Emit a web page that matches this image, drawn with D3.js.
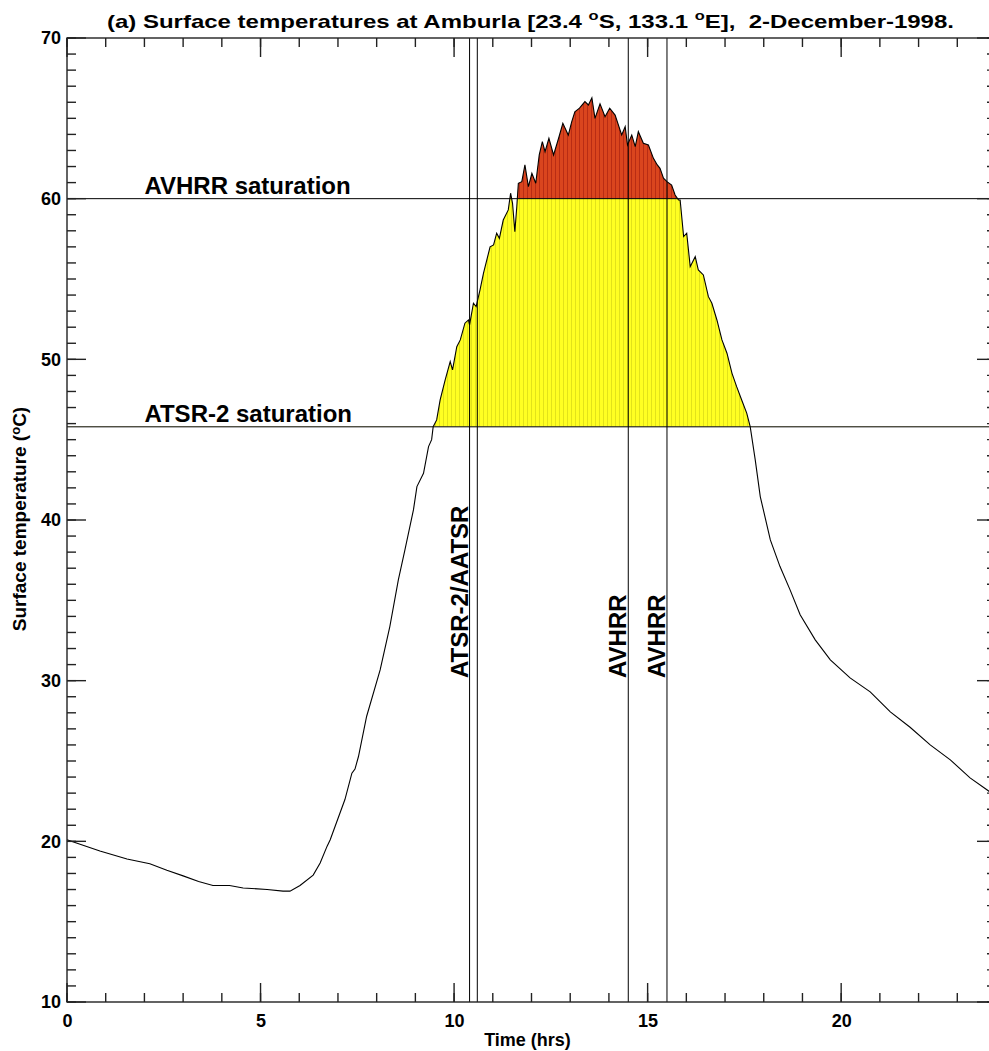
<!DOCTYPE html>
<html lang="en">
<head>
<meta charset="UTF-8">
<title>Surface temperatures at Amburla</title>
<script src="https://cdn.jsdelivr.net/npm/d3@7"></script>
<style>
  body { margin: 0; background: #fff; }
  text { font-family: "Liberation Sans", Arial, sans-serif; font-weight: bold; fill: #000; }
</style>
</head>
<body>
<div id="chart"></div>
<script>
// time of day (hrs) and surface temperature (deg C)
var hours = [0.00, 0.30, 0.85, 1.55, 2.14, 2.58, 3.00, 3.40, 3.77, 4.20, 4.55, 5.17, 5.58, 5.76,
  6.02, 6.36, 6.54, 6.72, 6.80, 7.18, 7.36, 7.44, 7.53, 7.74, 8.09, 8.34, 8.56, 8.73, 8.95,
  9.04, 9.21, 9.34, 9.42, 9.46, 9.55, 9.64, 9.77, 9.90, 9.96, 10.07, 10.16, 10.28, 10.37, 10.40,
  10.50, 10.57, 10.67, 10.76, 10.93, 11.02, 11.10, 11.17, 11.27, 11.40, 11.46, 11.51, 11.57,
  11.62, 11.66, 11.75, 11.83, 11.92, 12.01, 12.11, 12.20, 12.28, 12.35, 12.45, 12.57, 12.70,
  12.81, 12.95, 13.04, 13.12, 13.24, 13.38, 13.47, 13.56, 13.64, 13.77, 13.90, 14.02, 14.16,
  14.33, 14.42, 14.48, 14.59, 14.68, 14.76, 14.89, 15.02, 15.15, 15.25, 15.32, 15.41, 15.50,
  15.62, 15.71, 15.80, 15.84, 15.93, 16.01, 16.10, 16.23, 16.31, 16.44, 16.57, 16.66, 16.79,
  16.92, 17.05, 17.18, 17.30, 17.43, 17.56, 17.65, 17.78, 17.91, 18.17, 18.42, 18.68, 18.94,
  19.33, 19.72, 20.23, 20.75, 21.27, 21.78, 22.30, 22.82, 23.33, 23.83, 24.00];
var tempC = [20.1, 19.85, 19.4, 18.9, 18.6, 18.2, 17.85, 17.5, 17.25, 17.25, 17.1, 17.0, 16.9, 16.9,
  17.25, 17.9, 18.65, 19.7, 20.1, 22.6, 24.24, 24.5, 25.28, 27.77, 30.67, 33.37, 36.27, 38.14, 40.63,
  42.08, 42.91, 44.57, 45.0, 45.81, 46.23, 47.47, 48.72, 49.86, 49.34, 50.79, 51.21, 52.25, 52.45, 52.14,
  53.49, 53.28, 54.32, 55.36, 57.0, 57.12, 57.85, 57.53, 58.67, 59.3, 60.34, 59.71, 57.95,
  59.5, 60.96, 61.06, 62.1, 60.75, 61.58, 60.96, 62.72, 63.55, 62.92, 63.76, 62.72, 63.76,
  64.69, 63.96, 64.79, 65.41, 65.63, 66.04, 65.83, 66.28, 65.0, 65.9, 65.1, 65.63, 65.2,
  63.96, 64.48, 63.34, 63.96, 63.24, 64.17, 63.45, 63.34, 62.51, 62.1, 61.89, 61.27, 61.06,
  60.85, 60.23, 59.92, 59.92, 57.64, 57.85, 55.77, 56.39, 55.56, 55.25, 53.9, 53.49, 52.45,
  51.21, 50.38, 49.13, 48.3, 47.47, 46.65, 45.81, 43.74, 41.46, 38.76, 37.1, 35.65, 34.1,
  32.54, 31.3, 30.17, 29.3, 28.06, 27.1, 26.0, 25.07, 23.95, 23.1, 22.9];

var xMajor = [0, 5, 10, 15, 20];
var xMinor = d3.range(0, 25, 1);
var yMajor = [10, 20, 30, 40, 50, 60, 70];
var yMinor = d3.range(10, 71, 1);

// saturation levels
var satLevels = [60, 45.8];
var satNames = ["AVHRR saturation", "ATSR-2 saturation"];
// overpass times
var passTimes = [10.4, 10.6, 14.5, 15.5];
var passNames = ["ATSR-2/AATSR", "", "AVHRR", "AVHRR"];

var data = hours.map(function(h, i) { return { t: h, v: tempC[i] }; });

var W = 989, H = 1051;
var pLeft = 67, pRight = 996, pTop = 38, pBottom = 1002;

var x = d3.scaleLinear().domain([0, 24]).range([pLeft, pRight]);
var y = d3.scaleLinear().domain([10, 70]).range([pBottom, pTop]);

var svg = d3.select("#chart").append("svg").attr("width", W).attr("height", H);

// hatched fills
var defs = svg.append("defs");
function hatch(id, base, stripe) {
  var p = defs.append("pattern").attr("id", id).attr("patternUnits", "userSpaceOnUse")
    .attr("width", 4).attr("height", 10);
  p.append("rect").attr("width", 4).attr("height", 10).attr("fill", base);
  p.append("rect").attr("x", 3).attr("width", 1).attr("height", 10).attr("fill", stripe);
}
hatch("yel", "#ffff22", "#e2e21a");
hatch("red", "#da451e", "#b92c14");

defs.append("clipPath").attr("id", "clipYel").append("rect")
  .attr("x", pLeft).attr("width", pRight - pLeft)
  .attr("y", y(satLevels[0])).attr("height", y(satLevels[1]) - y(satLevels[0]));
defs.append("clipPath").attr("id", "clipRed").append("rect")
  .attr("x", pLeft).attr("width", pRight - pLeft)
  .attr("y", pTop).attr("height", y(satLevels[0]) - pTop);

var area = d3.area()
  .x(function(d) { return x(d.t); })
  .y0(y(satLevels[1]))
  .y1(function(d) { return y(d.v); });

svg.append("path").attr("d", area(data)).attr("fill", "url(#yel)").attr("clip-path", "url(#clipYel)");
svg.append("path").attr("d", area(data)).attr("fill", "url(#red)").attr("clip-path", "url(#clipRed)");

// curve
var line = d3.line().x(function(d) { return x(d.t); }).y(function(d) { return y(d.v); });
svg.append("path").attr("d", line(data)).attr("fill", "none")
  .attr("stroke", "#000").attr("stroke-width", 1.1);

// saturation lines
svg.selectAll(".sat").data(satLevels).enter().append("line").attr("class", "sat")
  .attr("x1", pLeft).attr("x2", pRight)
  .attr("y1", function(d) { return y(d); }).attr("y2", function(d) { return y(d); })
  .attr("stroke", "#000").attr("stroke-width", 1);
svg.selectAll(".satlab").data(satLevels).enter().append("text").attr("class", "satlab")
  .attr("x", x(2)).attr("y", function(d) { return y(d) - 5; })
  .style("font-size", "24px")
  .text(function(d, i) { return satNames[i]; });

// overpass lines
svg.selectAll(".pass").data(passTimes).enter().append("line").attr("class", "pass")
  .attr("x1", function(d) { return x(d); }).attr("x2", function(d) { return x(d); })
  .attr("y1", pTop).attr("y2", pBottom)
  .attr("stroke", "#000").attr("stroke-width", 1);
svg.selectAll(".passlab").data(passTimes).enter().append("text").attr("class", "passlab")
  .attr("transform", function(d) { return "translate(" + (x(d) - 2) + "," + 678 + ") rotate(-90)"; })
  .style("font-size", "24px")
  .text(function(d, i) { return passNames[i]; });

// frame
svg.append("rect").attr("x", pLeft).attr("y", pTop).attr("width", pRight - pLeft).attr("height", pBottom - pTop)
  .attr("fill", "none").attr("stroke", "#222").attr("stroke-width", 1.4);

// inward ticks on all four sides
var ticks = svg.append("g").attr("stroke", "#222").attr("stroke-width", 1.4);
function xTicks(vals, len) {
  ticks.append("g").selectAll("line").data(vals).enter().append("line")
    .attr("x1", function(d) { return x(d); }).attr("x2", function(d) { return x(d); })
    .attr("y1", pBottom).attr("y2", pBottom - len);
  ticks.append("g").selectAll("line").data(vals).enter().append("line")
    .attr("x1", function(d) { return x(d); }).attr("x2", function(d) { return x(d); })
    .attr("y1", pTop).attr("y2", pTop + len);
}
function yTicks(vals, len) {
  ticks.append("g").selectAll("line").data(vals).enter().append("line")
    .attr("y1", function(d) { return y(d); }).attr("y2", function(d) { return y(d); })
    .attr("x1", pLeft).attr("x2", pLeft + len);
  ticks.append("g").selectAll("line").data(vals).enter().append("line")
    .attr("y1", function(d) { return y(d); }).attr("y2", function(d) { return y(d); })
    .attr("x1", pRight).attr("x2", pRight - len);
}
xTicks(xMinor, 9);
xTicks(xMajor, 19);
yTicks(yMinor, 9);
yTicks(yMajor, 19);

// tick labels
var gx = svg.append("g").attr("transform", "translate(0," + pBottom + ")")
  .call(d3.axisBottom(x).tickValues(xMajor).tickSize(0).tickPadding(12).tickFormat(d3.format("d")));
var gy = svg.append("g").attr("transform", "translate(" + pLeft + ",0)")
  .call(d3.axisLeft(y).tickValues(yMajor).tickSize(0).tickPadding(6).tickFormat(d3.format("d")));
svg.selectAll(".domain").remove();
svg.selectAll(".tick text").style("font-size", "18px")
  .style("font-family", "'Liberation Sans', Arial, sans-serif").style("font-weight", "bold");

// titles
var title = svg.append("text").attr("x", 107).attr("y", 28)
  .attr("textLength", 847).attr("lengthAdjust", "spacingAndGlyphs")
  .style("font-size", "19px");
title.append("tspan").text("(a) Surface temperatures at Amburla [23.4 ");
title.append("tspan").attr("dy", -8).style("font-size", "13px").text("o");
title.append("tspan").attr("dy", 8).text("S, 133.1 ");
title.append("tspan").attr("dy", -8).style("font-size", "13px").text("o");
title.append("tspan").attr("dy", 8).attr("xml:space", "preserve").text("E],  2-December-1998.");

svg.append("text").attr("x", (pLeft + pRight) / 2 - 4).attr("y", 1046)
  .attr("text-anchor", "middle").style("font-size", "18px").text("Time (hrs)");

var yl = svg.append("text").attr("transform", "translate(26,519) rotate(-90)")
  .attr("text-anchor", "middle").style("font-size", "19px");
yl.append("tspan").text("Surface temperature (");
yl.append("tspan").attr("dy", -6).style("font-size", "13px").text("o");
yl.append("tspan").attr("dy", 6).text("C)");
</script>
</body>
</html>
